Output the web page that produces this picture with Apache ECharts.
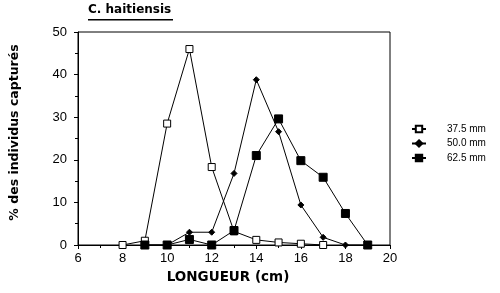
<!DOCTYPE html>
<html><head><meta charset="utf-8">
<script src="https://cdn.jsdelivr.net/npm/echarts@6/dist/echarts.min.js"></script>
<style>html,body{margin:0;padding:0;background:#fff}#c{width:500px;height:293px}</style>
</head><body><div id="c"></div>
<script>
const titleText = 'C. haitiensis';
const xName = 'LONGUEUR (cm)';
const yName = '% des individus capturés';
const seriesNames = ['37.5 mm', '50.0 mm', '62.5 mm'];
const x375 = [8, 9, 10, 11, 12, 13, 14, 15, 16, 17];
const y375 = [0, 1, 28.5, 46, 18.3, 3.2, 1.2, 0.6, 0.3, 0];
const x500 = [9, 10, 11, 12, 13, 14, 15, 16, 17, 18, 19];
const y500 = [0, 0, 3, 3, 16.8, 38.8, 26.6, 9.4, 1.8, 0, 0];
const x625 = [9, 10, 11, 12, 13, 14, 15, 16, 17, 18, 19];
const y625 = [0, 0, 1.3, 0, 3.4, 21, 29.6, 19.8, 15.9, 7.4, 0];

const pairs = (xs, ys) => xs.map((x, i) => [x, ys[i]]);
const font = 'Liberation Sans, Arial, sans-serif';
const boldFont = 'DejaVu Sans, sans-serif';

const chart = echarts.init(document.getElementById('c'));
const mk = (name, data, symbol, size, fill) => ({
  name, type: 'line', data, symbol, symbolSize: size,
  lineStyle: { color: '#000', width: 1 },
  itemStyle: { color: fill, borderColor: '#000', borderWidth: 1 },
  emphasis: { disabled: true }, animation: false
});
chart.setOption({
  animation: false,
  grid: { left: 78, right: 110, top: 32, bottom: 48, show: true, borderColor: '#000', borderWidth: 1 },
  graphic: [
    { type: 'text', left: 88, top: 4, style: { text: titleText, font: 'bold 12px ' + boldFont, fill: '#000' } },
    { type: 'rect', left: 88, top: 19, shape: { width: 85, height: 1.5 }, style: { fill: '#000' } }
  ],
  legend: {
    orient: 'vertical', left: 406, top: 119, itemGap: 4.5, itemWidth: 14, itemHeight: 8,
    textStyle: { fontFamily: font, fontSize: 10, lineHeight: 10, color: '#000', padding: [0, 0, 0, 16] },
    data: seriesNames
  },
  xAxis: {
    type: 'value', min: 6, max: 20, interval: 2,
    name: xName, nameLocation: 'middle', nameGap: 25,
    nameTextStyle: { fontFamily: boldFont, fontWeight: 'bold', fontSize: 13.5, color: '#000', padding: [0, 12, 0, 0] },
    axisLine: { onZero: false, lineStyle: { color: '#000', width: 1 } },
    axisTick: { length: 4, lineStyle: { color: '#000' } },
    minorTick: { show: true, splitNumber: 2, length: 3, lineStyle: { color: '#000' } },
    axisLabel: { fontFamily: font, fontSize: 13, color: '#000', margin: 7 },
    splitLine: { show: false }
  },
  yAxis: {
    type: 'value', min: 0, max: 50, interval: 10,
    name: yName, nameLocation: 'middle', nameGap: 57, nameRotate: 90,
    nameTextStyle: { fontFamily: boldFont, fontWeight: 'bold', fontSize: 12.5, color: '#000', padding: [0, 0, 0, 12] },
    axisLine: { lineStyle: { color: '#000', width: 1 } },
    axisTick: { length: 4, lineStyle: { color: '#000' } },
    minorTick: { show: true, splitNumber: 2, length: 3, lineStyle: { color: '#000' } },
    axisLabel: { fontFamily: font, fontSize: 13, color: '#000', margin: 11 },
    splitLine: { show: false }
  },
  series: [
    mk(seriesNames[0], pairs(x375, y375), 'rect', 7, '#fff'),
    mk(seriesNames[1], pairs(x500, y500), 'diamond', 6, '#000'),
    mk(seriesNames[2], pairs(x625, y625), 'rect', 8, '#000')
  ]
});
</script></body></html>
